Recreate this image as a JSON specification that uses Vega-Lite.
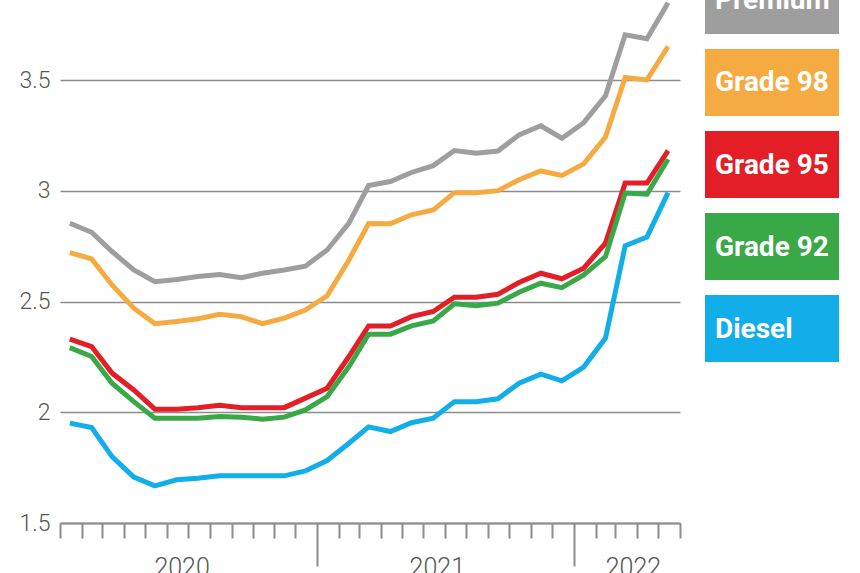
{
  "$schema": "https://vega.github.io/schema/vega-lite/v6.json",
  "padding": {"left": 18, "top": 0, "right": 0, "bottom": 0},
  "background": "white",
  "config": {"view": {"stroke": null}, "concat": {"spacing": 24}},
  "datasets": {
    "prices": [
      {"month": "2020-01-15", "Premium": 2.854, "Grade 98": 2.721, "Grade 95": 2.33, "Grade 92": 2.292, "Diesel": 1.951},
      {"month": "2020-02-15", "Premium": 2.813, "Grade 98": 2.693, "Grade 95": 2.297, "Grade 92": 2.252, "Diesel": 1.931},
      {"month": "2020-03-15", "Premium": 2.726, "Grade 98": 2.575, "Grade 95": 2.177, "Grade 92": 2.131, "Diesel": 1.8},
      {"month": "2020-04-15", "Premium": 2.643, "Grade 98": 2.47, "Grade 95": 2.101, "Grade 92": 2.048, "Diesel": 1.707},
      {"month": "2020-05-15", "Premium": 2.59, "Grade 98": 2.4, "Grade 95": 2.014, "Grade 92": 1.973, "Diesel": 1.668},
      {"month": "2020-06-15", "Premium": 2.6, "Grade 98": 2.41, "Grade 95": 2.014, "Grade 92": 1.973, "Diesel": 1.695},
      {"month": "2020-07-15", "Premium": 2.613, "Grade 98": 2.422, "Grade 95": 2.021, "Grade 92": 1.973, "Diesel": 1.702},
      {"month": "2020-08-15", "Premium": 2.622, "Grade 98": 2.443, "Grade 95": 2.032, "Grade 92": 1.981, "Diesel": 1.713},
      {"month": "2020-09-15", "Premium": 2.608, "Grade 98": 2.432, "Grade 95": 2.021, "Grade 92": 1.978, "Diesel": 1.713},
      {"month": "2020-10-15", "Premium": 2.628, "Grade 98": 2.4, "Grade 95": 2.021, "Grade 92": 1.969, "Diesel": 1.713},
      {"month": "2020-11-15", "Premium": 2.643, "Grade 98": 2.425, "Grade 95": 2.021, "Grade 92": 1.978, "Diesel": 1.713},
      {"month": "2020-12-15", "Premium": 2.66, "Grade 98": 2.462, "Grade 95": 2.064, "Grade 92": 2.011, "Diesel": 1.735},
      {"month": "2021-01-15", "Premium": 2.733, "Grade 98": 2.526, "Grade 95": 2.109, "Grade 92": 2.071, "Diesel": 1.782},
      {"month": "2021-02-15", "Premium": 2.854, "Grade 98": 2.688, "Grade 95": 2.252, "Grade 92": 2.206, "Diesel": 1.86},
      {"month": "2021-03-15", "Premium": 3.024, "Grade 98": 2.852, "Grade 95": 2.39, "Grade 92": 2.353, "Diesel": 1.934},
      {"month": "2021-04-15", "Premium": 3.042, "Grade 98": 2.851, "Grade 95": 2.39, "Grade 92": 2.353, "Diesel": 1.913},
      {"month": "2021-05-15", "Premium": 3.083, "Grade 98": 2.892, "Grade 95": 2.432, "Grade 92": 2.39, "Diesel": 1.953},
      {"month": "2021-06-15", "Premium": 3.114, "Grade 98": 2.914, "Grade 95": 2.455, "Grade 92": 2.413, "Diesel": 1.973},
      {"month": "2021-07-15", "Premium": 3.182, "Grade 98": 2.992, "Grade 95": 2.52, "Grade 92": 2.49, "Diesel": 2.048},
      {"month": "2021-08-15", "Premium": 3.17, "Grade 98": 2.992, "Grade 95": 2.52, "Grade 92": 2.481, "Diesel": 2.048},
      {"month": "2021-09-15", "Premium": 3.18, "Grade 98": 3.001, "Grade 95": 2.533, "Grade 92": 2.493, "Diesel": 2.061},
      {"month": "2021-10-15", "Premium": 3.253, "Grade 98": 3.05, "Grade 95": 2.586, "Grade 92": 2.542, "Diesel": 2.131},
      {"month": "2021-11-15", "Premium": 3.294, "Grade 98": 3.09, "Grade 95": 2.628, "Grade 92": 2.583, "Diesel": 2.172},
      {"month": "2021-12-15", "Premium": 3.238, "Grade 98": 3.07, "Grade 95": 2.603, "Grade 92": 2.563, "Diesel": 2.142},
      {"month": "2022-01-15", "Premium": 3.308, "Grade 98": 3.122, "Grade 95": 2.651, "Grade 92": 2.62, "Diesel": 2.204},
      {"month": "2022-02-15", "Premium": 3.429, "Grade 98": 3.243, "Grade 95": 2.764, "Grade 92": 2.703, "Diesel": 2.335},
      {"month": "2022-03-15", "Premium": 3.705, "Grade 98": 3.512, "Grade 95": 3.035, "Grade 92": 2.99, "Diesel": 2.752},
      {"month": "2022-04-15", "Premium": 3.687, "Grade 98": 3.501, "Grade 95": 3.035, "Grade 92": 2.985, "Diesel": 2.791},
      {"month": "2022-05-15", "Premium": 3.85, "Grade 98": 3.652, "Grade 95": 3.182, "Grade 92": 3.143, "Diesel": 2.992}
    ],
    "years": [
      {"year": "2020", "labelDate": "2020-06-22"},
      {"year": "2021", "labelDate": "2021-06-20"},
      {"year": "2022", "labelDate": "2022-03-26"}
    ],
    "legend": [
      {"series": "Premium"},
      {"series": "Grade 98"},
      {"series": "Grade 95"},
      {"series": "Grade 92"},
      {"series": "Diesel"}
    ]
  },
  "hconcat": [
    {
      "width": 620,
      "height": 523,
      "layer": [
        {
          "data": {"name": "prices"},
          "transform": [{"fold": ["Premium", "Grade 98", "Grade 95", "Grade 92", "Diesel"], "as": ["series", "price"]}],
          "mark": {"type": "line", "strokeWidth": 5, "clip": true},
          "encoding": {
            "x": {
              "field": "month", "type": "temporal",
              "scale": {"type": "utc", "domain": [{"year": 2020, "month": 1, "date": 1, "utc": true}, {"year": 2022, "month": 6, "date": 1, "utc": true}]},
              "axis": {
                "orient": "bottom",
                "title": null, "labels": false, "grid": false,
                "tickCount": {"interval": "month", "step": 1},
                "domainColor": "#8c8c8c", "domainWidth": 2,
                "tickColor": "#8c8c8c", "tickWidth": 2,
                "tickSize": {"condition": {"test": "utcmonth(datum.value) === 0 && utcyear(datum.value) > 2020", "value": 43}, "value": 15}
              }
            },
            "y": {
              "field": "price", "type": "quantitative",
              "scale": {"domain": [1.5, 3.862], "nice": false, "zero": false},
              "axis": {
                "title": null, "values": [1.5, 2, 2.5, 3, 3.5], "format": "~f",
                "grid": true, "gridColor": "#8c8c8c", "gridWidth": 1.5,
                "domain": false, "ticks": false, "labelPadding": 10,
                "labelFont": "Roboto", "labelFontWeight": 300, "labelFontSize": 23, "labelColor": "#555555"
              }
            },
            "color": {
              "field": "series", "type": "nominal",
              "scale": {"domain": ["Premium", "Grade 98", "Grade 95", "Grade 92", "Diesel"], "range": ["#9e9e9e", "#f6aa42", "#e31e26", "#39a947", "#12aee9"]},
              "legend": null
            }
          }
        },
        {
          "data": {"name": "years"},
          "mark": {"type": "point", "opacity": 0},
          "encoding": {
            "x": {
              "field": "labelDate", "type": "temporal",
              "axis": {
                "orient": "bottom",
                "title": null, "ticks": false, "domain": false, "grid": false,
                "values": [{"year": 2020, "month": 6, "date": 22, "utc": true}, {"year": 2021, "month": 6, "date": 20, "utc": true}, {"year": 2022, "month": 3, "date": 26, "utc": true}],
                "labelExpr": "utcyear(datum.value)",
                "labelPadding": 32, "labelBaseline": "top", "labelFlush": false, "labelOverlap": false,
                "labelFont": "Roboto", "labelFontWeight": 300, "labelFontSize": 25, "labelColor": "#555555"
              }
            }
          }
        }
      ],
      "resolve": {"axis": {"x": "independent"}}
    },
    {
      "width": 134,
      "height": 395,
      "data": {"name": "legend"},
      "encoding": {
        "y": {"field": "series", "type": "nominal", "sort": null, "scale": {"paddingInner": 0.183, "paddingOuter": 0}, "axis": null}
      },
      "layer": [
        {
          "mark": {"type": "rect", "yOffset": -33, "clip": true},
          "encoding": {
            "color": {
              "field": "series", "type": "nominal",
              "scale": {"domain": ["Premium", "Grade 98", "Grade 95", "Grade 92", "Diesel"], "range": ["#9e9e9e", "#f6aa42", "#e31e26", "#39a947", "#12aee9"]},
              "legend": null
            }
          }
        },
        {
          "mark": {"type": "text", "align": "left", "baseline": "middle", "dx": -57, "dy": -32, "clip": true, "font": "Roboto", "fontWeight": "bold", "fontSize": 28, "color": "white"},
          "encoding": {"text": {"field": "series"}}
        }
      ]
    }
  ]
}
